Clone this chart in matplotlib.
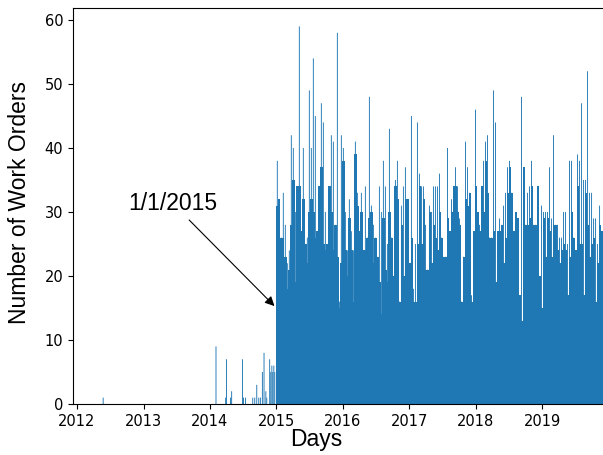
import pandas as pd
import matplotlib
matplotlib.use('Agg')
import matplotlib.pyplot as plt
import matplotlib.dates as mdates

# sparse orders before 2015 (date, count)
early_dates = ['2012-05-24', '2014-02-03', '2014-03-28', '2014-04-02', '2014-04-24',
               '2014-04-30', '2014-06-29', '2014-07-04', '2014-07-15', '2014-08-24',
               '2014-09-04', '2014-09-15', '2014-09-26', '2014-10-05', '2014-10-16',
               '2014-10-25', '2014-11-04', '2014-11-09', '2014-11-25', '2014-12-01',
               '2014-12-07', '2014-12-12', '2014-12-18', '2014-12-23']
early_counts = [1, 9, 1, 7, 1, 2, 7, 1, 1, 1, 1, 3, 1, 1, 5, 8, 2, 1, 7, 5, 6, 5, 6, 5]

# from 2015 on, read in ~11 day steps: typical level and the highest day in the step
typical = [31, 32, 26, 26, 23, 18, 21, 28, 35, 19, 34, 34, 27, 32, 25, 22, 30, 32, 30, 26,
           27, 34, 37, 25, 24, 25, 34, 30, 24, 28, 23, 15, 22, 38, 24, 20, 29, 24, 16, 39,
           31, 27, 30, 24, 24, 26, 29, 30, 22, 26, 23, 19, 14, 29, 21, 19, 30, 26, 20, 34,
           32, 16, 28, 20, 32, 32, 22, 26, 16, 16, 25, 34, 25, 32, 21, 21, 30, 22, 28, 26,
           24, 30, 26, 23, 23, 29, 27, 30, 34, 34, 30, 28, 16, 23, 32, 31, 33, 16, 27, 34,
           30, 27, 34, 30, 38, 33, 26, 26, 27, 19, 27, 27, 28, 22, 26, 33, 37, 33, 27, 30,
           29, 17, 13, 37, 28, 28, 29, 34, 28, 28, 34, 20, 15, 29, 23, 29, 27, 23, 28, 28,
           24, 22, 24, 25, 24, 17, 23, 30, 26, 24, 34, 25, 25, 17, 33, 28, 23, 25, 26, 16,
           22, 28, 27]
peak = [38, 32, 26, 33, 28, 22, 24, 42, 40, 30, 34, 59, 27, 40, 25, 26, 49, 40, 54, 45,
        27, 34, 47, 44, 30, 25, 34, 42, 41, 28, 58, 16, 42, 40, 30, 24, 32, 27, 24, 41,
        33, 27, 33, 24, 34, 26, 48, 31, 28, 26, 23, 34, 30, 38, 34, 25, 43, 26, 20, 35,
        38, 16, 31, 34, 37, 32, 22, 45, 18, 25, 44, 36, 34, 34, 28, 21, 31, 30, 34, 34,
        34, 36, 26, 23, 23, 40, 27, 32, 34, 37, 34, 29, 16, 23, 41, 37, 33, 17, 27, 46,
        30, 28, 34, 38, 41, 42, 26, 26, 49, 44, 27, 29, 28, 31, 33, 37, 38, 33, 27, 30,
        29, 17, 48, 37, 28, 33, 34, 38, 28, 28, 34, 20, 31, 30, 30, 30, 37, 29, 42, 28,
        28, 26, 26, 30, 30, 25, 38, 38, 26, 24, 39, 38, 47, 35, 35, 52, 33, 33, 29, 29,
        25, 31, 27]

early = pd.to_datetime(early_dates)
steps = pd.date_range('2015-01-01', periods=len(typical), freq='11D')

fig = plt.figure(figsize=(6.03, 4.55), dpi=100)
# right spine sits just past the figure edge, as in the cropped original
ax = fig.add_axes([0.121, 0.112, 0.8872, 0.8714])

ax.bar(early, early_counts, width=5, color='#1f77b4', snap=False)
ax.bar(steps, typical, width=11.5, align='edge', color='#1f77b4')
ax.bar(steps + pd.Timedelta(days=5), peak, width=5, color='#1f77b4', snap=False)

ax.set_xlim(pd.Timestamp('2011-12-10'), pd.Timestamp('2019-12-28'))
ax.set_ylim(0, 61.95)
ax.xaxis.set_major_locator(mdates.YearLocator())
ax.xaxis.set_major_formatter(mdates.DateFormatter('%Y'))
ax.tick_params(labelsize=10.5)

ax.set_xlabel('Days', fontsize=16.5, family='Liberation Sans')
ax.set_ylabel('Number of Work Orders', fontsize=16.5, family='Liberation Sans')
ax.xaxis.set_label_coords(0.454, -0.06)
ax.yaxis.set_label_coords(-0.079, 0.508)

ax.annotate('1/1/2015', xy=(pd.Timestamp('2015-01-01'), 15),
            xytext=(pd.Timestamp('2013-06-12'), 31.3),
            ha='center', va='center', fontsize=16.5, family='Liberation Sans',
            arrowprops=dict(arrowstyle='-|>', color='black', lw=0.8, mutation_scale=14))

fig.savefig('out.png', dpi=100)
